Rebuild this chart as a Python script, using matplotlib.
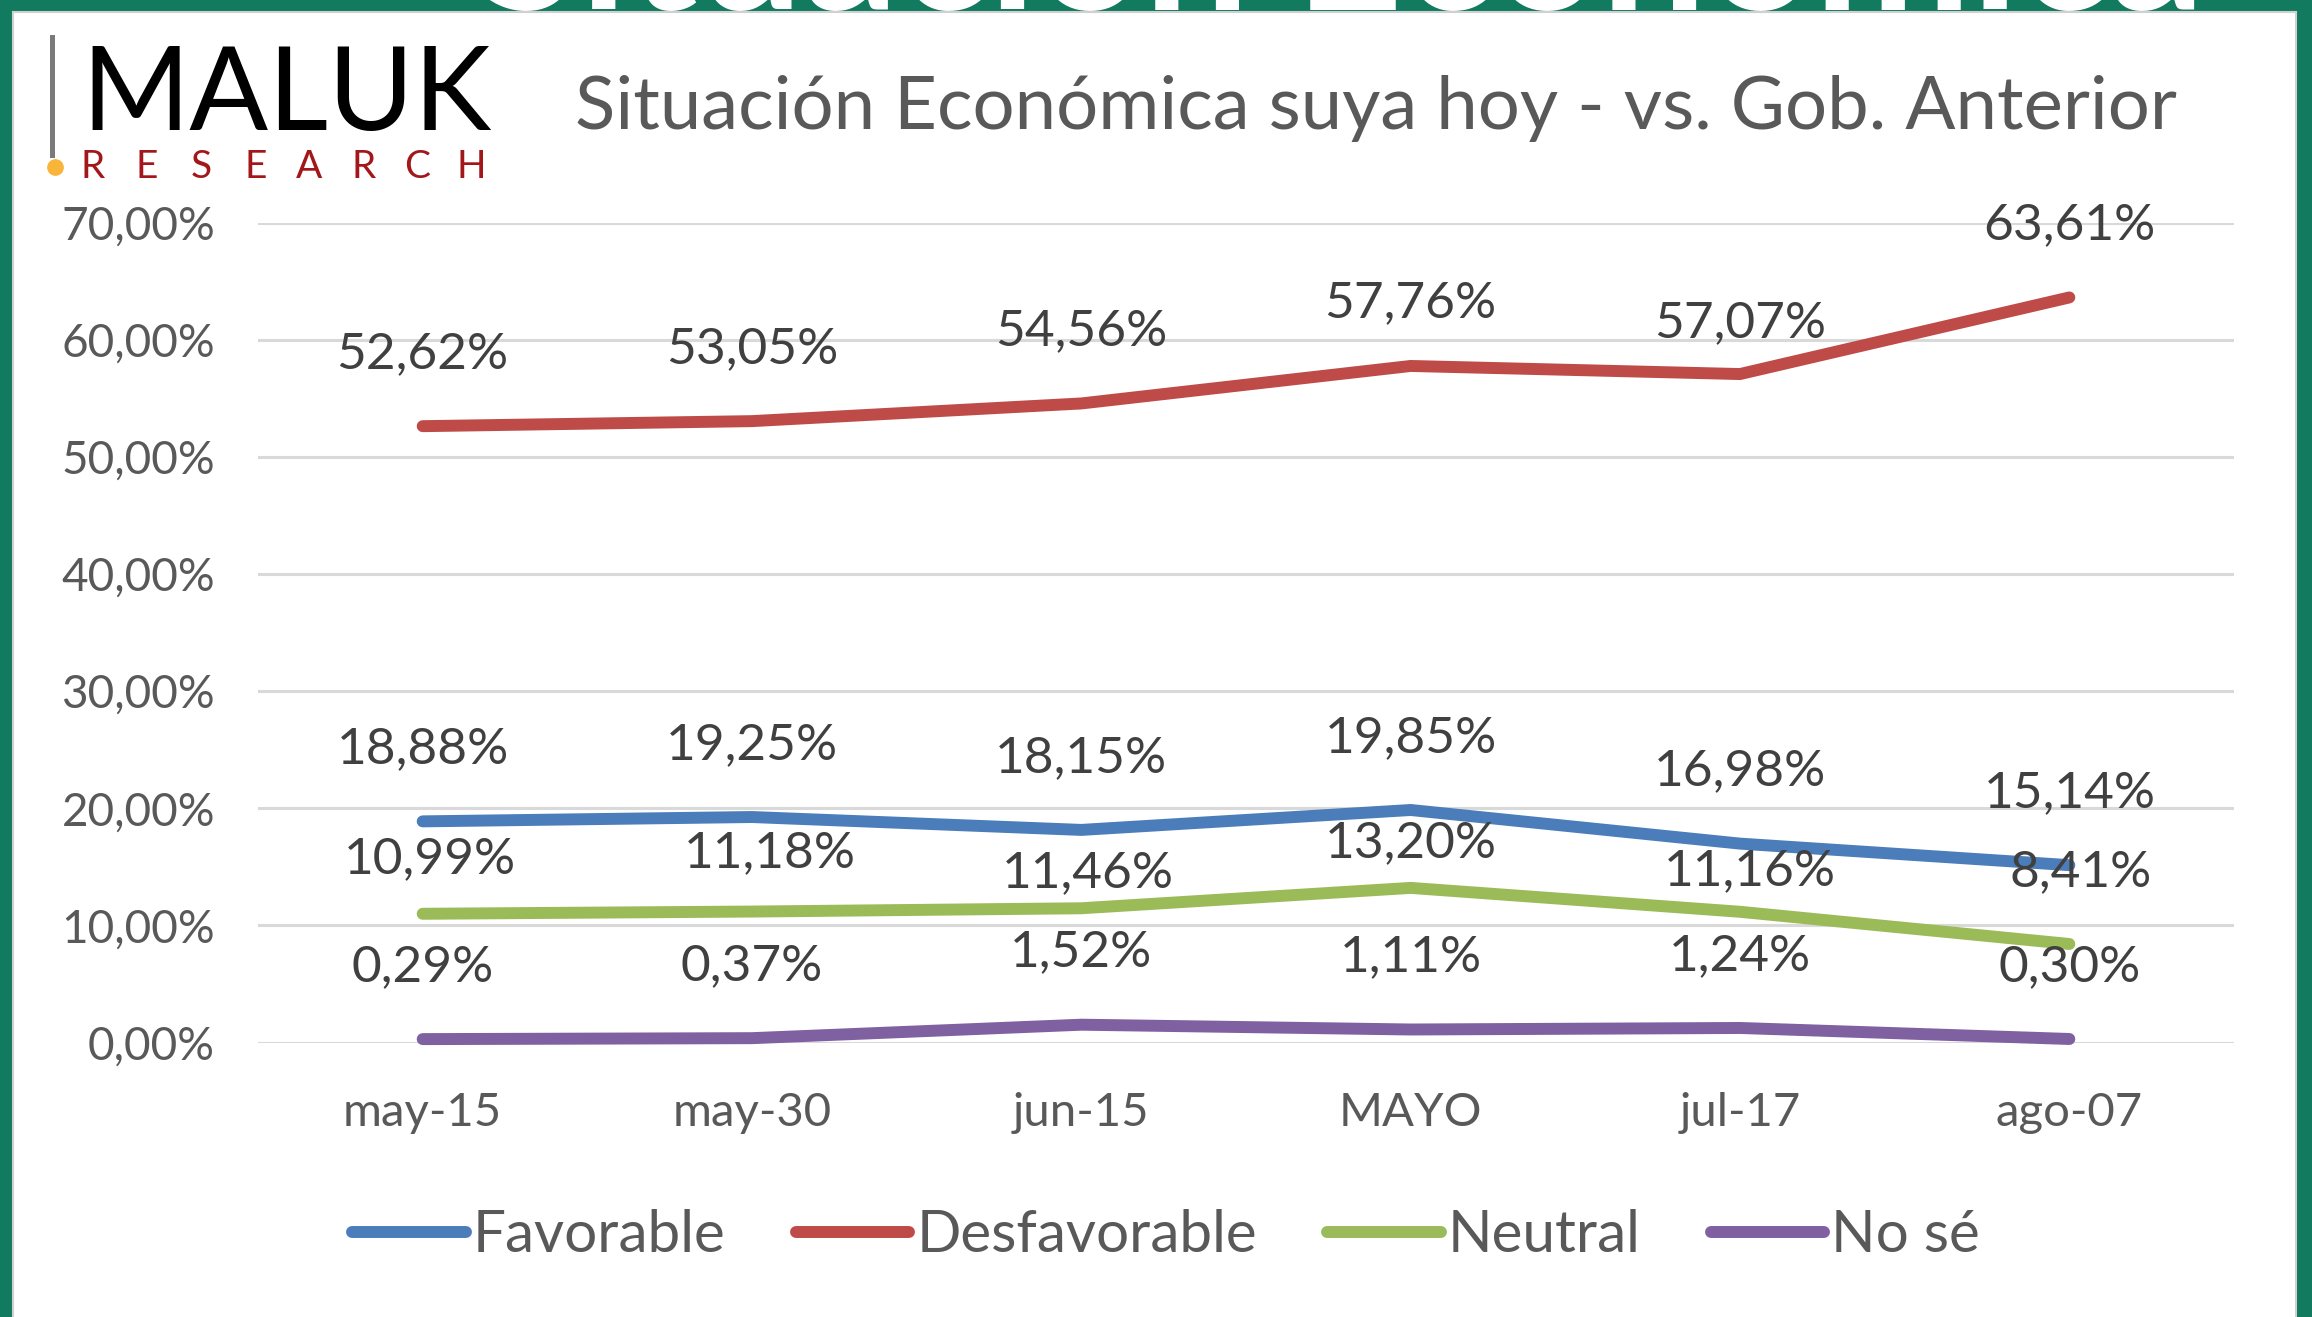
"""
Situación Económica suya hoy - vs. Gob. Anterior (MALUK Research)
"""
import matplotlib
matplotlib.use('Agg')
import matplotlib.pyplot as plt
from matplotlib.lines import Line2D
from matplotlib.patches import Rectangle

fechas = ['may-15', 'may-30', 'jun-15', 'MAYO', 'jul-17', 'ago-07']
favorable = [18.88, 19.25, 18.15, 19.85, 16.98, 15.14]
desfavorable = [52.62, 53.05, 54.56, 57.76, 57.07, 63.61]
neutral = [10.99, 11.18, 11.46, 13.20, 11.16, 8.41]
no_se = [0.29, 0.37, 1.52, 1.11, 1.24, 0.30]

series = [
    ('Favorable', favorable, '#4A7DBA'),
    ('Desfavorable', desfavorable, '#BE4B48'),
    ('Neutral', neutral, '#9BBB59'),
    ('No sé', no_se, '#7F60A0'),
]

# desplazamiento de las etiquetas (puntos, dx/dy)
desp = {
    'Favorable': [(0, 52)] * 6,
    'Desfavorable': [(0, 52), (0, 52), (0, 52), (0, 45), (0, 37), (0, 52)],
    'Neutral': [(5, 39), (13, 42), (5, 25), (0, 32), (7, 29), (8, 52)],
    'No sé': [(0, 52)] * 6,
}

plt.rcParams['font.family'] = ['Lato', 'DejaVu Sans']

W, H = 2312, 1317
fig = plt.figure(figsize=(W / 100, H / 100), dpi=100)
fig.patch.set_facecolor('#127A5F')

# panel blanco y texto cortado de la franja superior
fig.text(0.58, 1 - 10 / H, 'Situación Económica', fontsize=135, color='white',
         weight='bold', ha='center', va='baseline', zorder=-3)
fig.add_artist(Rectangle((13 / W, -0.01), (2296 - 13) / W, (H - 12) / H + 0.01,
                         transform=fig.transFigure, facecolor='white',
                         edgecolor='#D0D0D0', linewidth=1.5, zorder=-2))

ax = fig.add_axes([258 / W, 1 - 1042.5 / H, (2234 - 258) / W, (1042.5 - 222.6) / H])
ax.set_facecolor('none')

x = list(range(len(fechas)))
for nombre, vals, color in series:
    ax.plot(x, vals, color=color, linewidth=8.6, solid_capstyle='round',
            solid_joinstyle='round', label=nombre, clip_on=False, zorder=3)
    for i, v in enumerate(vals):
        dx, dy = desp[nombre][i]
        ax.annotate(f'{v:.2f}%'.replace('.', ','), (i, v), xytext=(dx, dy),
                    textcoords='offset points', ha='center', va='center',
                    fontsize=37, color='#404040', zorder=4)

ax.set_xlim(-0.5, len(fechas) - 0.5)
ax.set_ylim(0, 70)
ax.set_yticks(range(0, 71, 10))
ax.set_yticklabels([f'{v},00%' for v in range(0, 71, 10)])
ax.set_xticks(x)
ax.set_xticklabels(fechas)
ax.grid(axis='y', color='#D9D9D9', linewidth=2.2)
ax.set_axisbelow(True)
for s in ax.spines.values():
    s.set_visible(False)
ax.tick_params(axis='y', length=0, pad=31, labelsize=33, labelcolor='#595959')
ax.tick_params(axis='x', length=0, pad=36, labelsize=34, labelcolor='#595959')

fig.text(1376 / W, 1 - 108 / H, 'Situación Económica suya hoy - vs. Gob. Anterior',
         fontsize=53.5, color='#595959', ha='center', va='center')

# logo
fig.text(81 / W, 1 - 130 / H, 'MALUK', fontsize=84, color='black', ha='left', va='baseline')
fig.add_artist(Line2D([52 / W, 52 / W], [1 - 37 / H, 1 - 155 / H], color='#7A7A7A',
                      linewidth=3.6, transform=fig.transFigure))
for k, letra in enumerate('RESEARCH'):
    fig.text((93 + k * 54.1) / W, 1 - 167 / H, letra, fontsize=28, color='#A3161A',
             ha='center', va='center')
fig.add_artist(Line2D([55 / W], [1 - 167 / H], marker='o', markersize=11,
                      color='#F9B43A', transform=fig.transFigure))

fig.legend(loc='center', bbox_to_anchor=(1166 / W, 1 - 1236 / H), ncol=4,
           frameon=False, fontsize=42, handlelength=1.95, handletextpad=0.12,
           columnspacing=1.2, labelcolor='#595959')

fig.savefig('out.png', dpi=100, facecolor=fig.get_facecolor())
